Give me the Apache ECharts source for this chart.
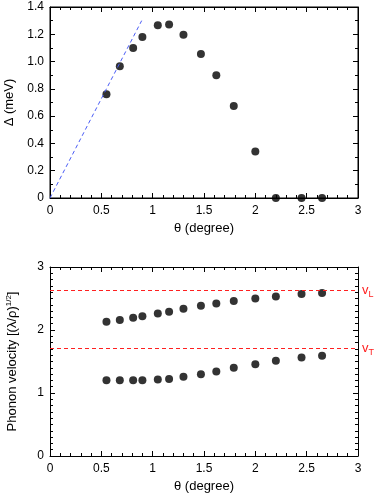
<!DOCTYPE html>
<html>
<head>
<meta charset="utf-8">
<script src="https://cdn.jsdelivr.net/npm/echarts@6/dist/echarts.min.js"></script>
<style>
  html, body { margin: 0; padding: 0; background: #fff; }
  #chart { width: 374px; height: 495px; }
</style>
</head>
<body>
<div id="chart"></div>
<script>
// 角度 (degree)
var theta = [0.55, 0.68, 0.81, 0.9, 1.05, 1.16, 1.3, 1.47, 1.62, 1.79, 2.0, 2.2, 2.45, 2.65];
// (a) gap  Δ (meV)
var gap = [0.76, 0.965, 1.10, 1.18, 1.267, 1.272, 1.197, 1.056, 0.90, 0.675, 0.34, 0, 0, 0];
// (b) phonon velocity
var mode2 = [2.13, 2.157, 2.194, 2.22, 2.263, 2.29, 2.337, 2.385, 2.42, 2.459, 2.50, 2.533, 2.57, 2.586];
var mode1 = [1.203, 1.203, 1.203, 1.203, 1.214, 1.224, 1.256, 1.298, 1.341, 1.399, 1.457, 1.51, 1.563, 1.59];
// 直线 (blue dashed)
var slopeLine = [[0, 0], [0.893, 1.30]];
var vL = 2.634;
var vT = 1.712;

var font = 'Liberation Sans, Arial, sans-serif';

function pairs(xs, ys) {
  return xs.map(function (x, i) { return [x, ys[i]]; });
}

// 坐标轴通用样式
function axisBase() {
  return {
    z: 3,
    axisLine: { show: true, onZero: false, lineStyle: { color: '#000', width: 1 } },
    axisTick: { show: true, inside: true, length: 5, lineStyle: { color: '#000' } },
    splitLine: { show: false },
    splitArea: { show: false }
  };
}
function xAx(grid, pos, show) {
  return Object.assign(axisBase(), {
    type: 'value', gridIndex: grid, position: pos, min: 0, max: 3, interval: 0.5,
    minorTick: { show: true, splitNumber: 5, length: 3, lineStyle: { color: '#000' } },
    name: show ? 'θ (degree)' : '', nameLocation: 'middle', nameGap: 24,
    nameTextStyle: { color: '#000', fontSize: 13, fontFamily: font },
    axisLabel: { show: show, color: '#000', fontSize: 12, fontFamily: font, margin: 7,
      formatter: function (v) { return String(v); } }
  });
}
function yAx(grid, pos, show, max, split, minorSplit, name, gap) {
  return Object.assign(axisBase(), {
    type: 'value', gridIndex: grid, position: pos, min: 0, max: max, splitNumber: split,
    minorTick: { show: true, splitNumber: minorSplit, length: 3, lineStyle: { color: '#000' } },
    name: name, nameLocation: 'middle', nameGap: gap,
    nameTextStyle: {
      color: '#000', fontSize: 13, fontFamily: font,
      rich: { sup: { fontSize: 8, fontFamily: font, color: '#000', padding: [0, 0, 7, 0] } }
    },
    axisLabel: { show: show, color: '#000', fontSize: 12, fontFamily: font, margin: 6,
      formatter: function (v) { return v === 0 ? '0' : (max < 2 ? v.toFixed(1) : String(v)); } }
  });
}

function textMark(x, y, text, xi, yi) {
  return {
    type: 'scatter', xAxisIndex: xi, yAxisIndex: yi, symbol: 'none', silent: true,
    data: [[x, y]],
    label: { show: true, position: 'inside', formatter: text, color: '#000',
      fontSize: 13, fontFamily: font }
  };
}

var dots = { type: 'scatter', symbol: 'circle', symbolSize: 8, z: 4, itemStyle: { color: '#000' } };

var chart = echarts.init(document.getElementById('chart'));
chart.setOption({
  animation: false,
  grid: [
    { left: 50, right: 16, top: 7, height: 191, outerBoundsMode: 'none', containLabel: false,
      show: true, z: 3, borderColor: '#000', borderWidth: 1, backgroundColor: 'transparent' },
    { left: 50, right: 16, top: 267, height: 189, outerBoundsMode: 'none', containLabel: false }
  ],
  xAxis: [
    xAx(0, 'bottom', true), xAx(0, 'top', false),
    xAx(1, 'bottom', true), xAx(1, 'top', false)
  ],
  yAxis: [
    yAx(0, 'left', true, 1.4, 7, 2, 'Δ (meV)', 34),
    yAx(0, 'right', false, 1.4, 7, 2, '', 0),
    yAx(1, 'left', true, 3, 3, 10, 'Phonon velocity [(λ/ρ){sup|1/2}]', 30),
    yAx(1, 'right', false, 3, 3, 10, '', 0)
  ],
  series: [
    Object.assign({
      xAxisIndex: 0, yAxisIndex: 0, data: pairs(theta, gap),
      markLine: {
        silent: true, symbol: 'none', label: { show: false },
        lineStyle: { color: '#4a5cf5', width: 1, type: [4, 3] },
        data: [[{ coord: slopeLine[0] }, { coord: slopeLine[1] }]]
      }
    }, dots),
    Object.assign({
      xAxisIndex: 2, yAxisIndex: 2, data: pairs(theta, mode2),
      markLine: {
        silent: true, symbol: 'none',
        lineStyle: { color: '#ff2020', width: 1, type: [4, 3] },
        label: {
          position: 'end', distance: 4, color: '#ff2020', fontSize: 13, fontFamily: font,
          formatter: function (p) { return p.name === 'L' ? 'v{s|L}' : 'v{s|T}'; },
          rich: { s: { fontSize: 9, color: '#ff2020', padding: [8, 0, 0, 0] } }
        },
        data: [{ yAxis: vL, name: 'L' }, { yAxis: vT, name: 'T' }]
      }
    }, dots),
    Object.assign({ xAxisIndex: 2, yAxisIndex: 2, data: pairs(theta, mode1) }, dots),
    textMark(0.185, 1.23, '(a)', 0, 0),
    textMark(0.185, 2.745, '(b)', 2, 2),
    textMark(2.09, 2.24, '2nd. mode', 2, 2),
    textMark(2.07, 1.12, '1st. mode', 2, 2)
  ]
});
</script>
</body>
</html>
